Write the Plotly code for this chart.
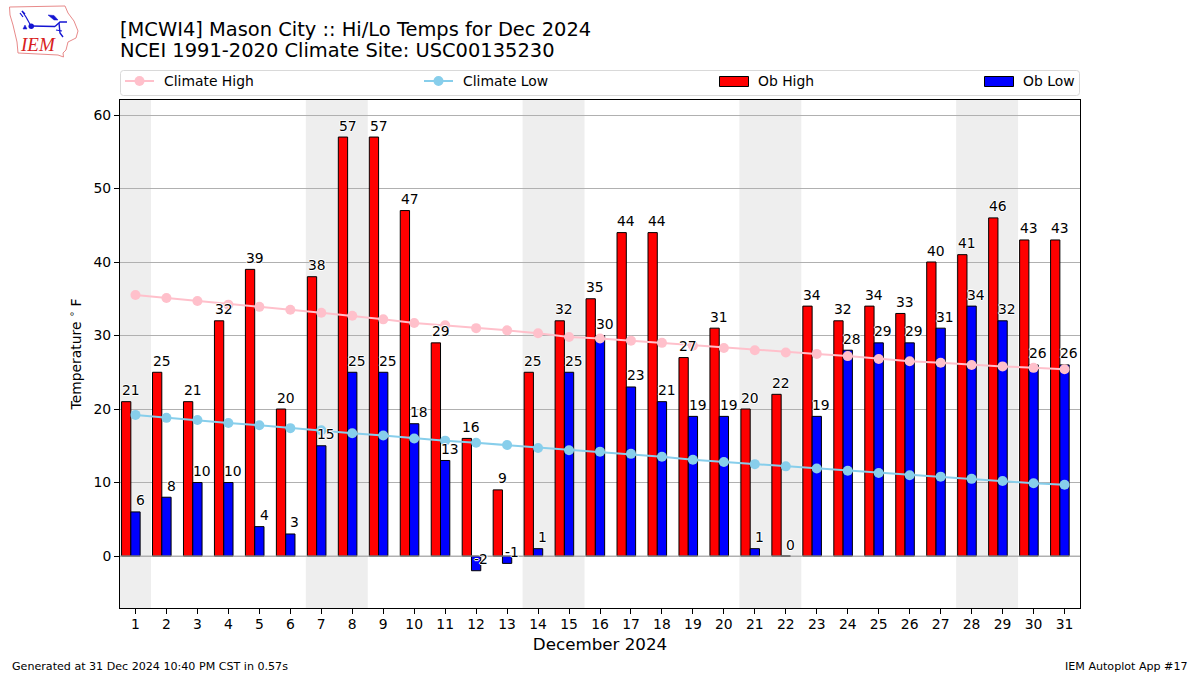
import plotly.graph_objects as go

days = list(range(1, 32))
ob_high = [21,25,21,32,39,20,38,57,57,47,29,16,9,25,32,35,44,44,27,31,20,22,34,32,34,33,40,41,46,43,43]
ob_low = [6,8,10,10,4,3,15,25,25,18,13,-2,-1,1,25,30,23,21,19,19,1,0,19,28,29,29,31,34,32,26,26]
climate_high = [35.5,35.1,34.7,34.2,33.9,33.5,33.1,32.7,32.2,31.7,31.4,31.0,30.7,30.3,29.8,29.6,29.3,29.0,28.6,28.3,28.0,27.7,27.5,27.2,26.8,26.5,26.3,26.0,25.8,25.6,25.4]
climate_low = [19.2,18.8,18.5,18.1,17.8,17.4,17.1,16.7,16.4,16.0,15.7,15.4,15.1,14.7,14.4,14.2,13.9,13.5,13.1,12.8,12.5,12.2,11.9,11.6,11.3,11.0,10.8,10.5,10.2,9.9,9.7]
weekend_spans = [(0.5,1.5),(6.5,8.5),(13.5,15.5),(20.5,22.5),(27.5,29.5)]
title_line1 = "[MCWI4] Mason City :: Hi/Lo Temps for Dec 2024"
title_line2 = "NCEI 1991-2020 Climate Site: USC00135230"
footer_left = "Generated at 31 Dec 2024 10:40 PM CST in 0.57s"
footer_right = "IEM Autoplot App #17"
legend_names = ["Climate High", "Climate Low", "Ob High", "Ob Low"]

W, H = 1200, 675
L, R, T, B = 120, 1080, 100, 608
FONT = "DejaVu Sans"
PINK, SKY, RED, BLUE = "#ffc0cb", "#87ceeb", "#ff0000", "#0000ff"
def px(x): return (x - L) / (R - L)
def py(y): return (B - y) / (B - T)
def page_path(pts, close=False):
    s = "M" + " L".join(f"{px(a):.5f},{py(b):.5f}" for a, b in pts)
    return s + (" Z" if close else "")

fig = go.Figure()
fig.add_trace(go.Scatter(x=days, y=climate_high, name=legend_names[0], mode="lines+markers",
                         line=dict(color=PINK, width=2), marker=dict(color=PINK, size=10)))
fig.add_trace(go.Scatter(x=days, y=climate_low, name=legend_names[1], mode="lines+markers",
                         line=dict(color=SKY, width=2), marker=dict(color=SKY, size=10)))
fig.add_trace(go.Bar(x=days, y=ob_high, name=legend_names[2], width=0.3, offset=-0.45,
                     marker=dict(color=RED, line=dict(color="black", width=1))))
fig.add_trace(go.Bar(x=days, y=ob_low, name=legend_names[3], width=0.3, offset=-0.15,
                     marker=dict(color=BLUE, line=dict(color="black", width=1))))

P = dict(xref="paper", yref="paper")
shapes = [dict(type="rect", xref="x", yref="paper", x0=a, x1=b, y0=0, y1=1, layer="below",
               fillcolor="#eeeeee", line=dict(width=0)) for a, b in weekend_spans]
# grey baseline sits over the bar edges at zero
shapes.append(dict(type="line", xref="paper", yref="y", x0=0, x1=1, y0=0, y1=0, layer="above",
                   line=dict(color="#b0b0b0", width=1)))
# rounded legend frame
r = 3
x0, x1, y0, y1 = 120.5, 1079.5, 70.5, 95.5
frame = (f"M{px(x0+r)},{py(y0)} L{px(x1-r)},{py(y0)} Q{px(x1)},{py(y0)} {px(x1)},{py(y0+r)} "
         f"L{px(x1)},{py(y1-r)} Q{px(x1)},{py(y1)} {px(x1-r)},{py(y1)} L{px(x0+r)},{py(y1)} "
         f"Q{px(x0)},{py(y1)} {px(x0)},{py(y1-r)} L{px(x0)},{py(y0+r)} Q{px(x0)},{py(y0)} {px(x0+r)},{py(y0)} Z")
shapes.append(dict(type="path", path=frame, layer="above", line=dict(color="#d9d9d9", width=1), **P))
# legend keys
for xa, color in [(125, PINK), (424, SKY)]:
    shapes.append(dict(type="path", path=page_path([(xa, 81), (xa+29, 81)]), line=dict(color=color, width=2), **P))
    shapes.append(dict(type="circle", x0=px(xa+9.5), x1=px(xa+19.5), y0=py(86), y1=py(76),
                       fillcolor=color, line=dict(width=0), **P))
for xa, color in [(719.5, RED), (984.5, BLUE)]:
    shapes.append(dict(type="rect", x0=px(xa), x1=px(xa+29), y0=py(86.5), y1=py(76.5),
                       fillcolor=color, line=dict(color="black", width=1), **P))
# IEM logo
iowa = [(9.5,7),(65,6),(68,13),(74,21),(78,31),(76,38),(68,42),(66,50),(63,53),(63.5,57),(58,55),(18,53),(17,42),(13,25),(10,15)]
shapes.append(dict(type="path", path=page_path(iowa, True), line=dict(color="#e88a8a", width=1), **P))
LB = "#1414d2"
for pts, w in [([(31,26),(55,26.5)],1.6), ([(55,26.5),(60,22),(67,22)],1.4), ([(31,26),(26,17),(22,11)],1.2),
               ([(22,11),(25,14)],1.2), ([(20,13),(23,17)],1.2), ([(59,23),(60,33),(63,37)],1.4),
               ([(56,30),(62,31)],1.2)]:
    shapes.append(dict(type="path", path=page_path(pts), line=dict(color=LB, width=w), **P))
shapes.append(dict(type="path", path=page_path([(48,15),(54,15.5),(58,20),(54,20)], True), fillcolor=LB, line=dict(color=LB, width=0.5), **P))
shapes.append(dict(type="path", path=page_path([(23,29),(25,25),(27,29)], True), fillcolor=LB, line=dict(color=LB, width=0.5), **P))
shapes.append(dict(type="circle", x0=px(28.5), x1=px(34), y0=py(29), y1=py(23.5), fillcolor=LB, line=dict(width=0), **P))

WHITE_HALO = "-1px 0 0 #fff, 1px 0 0 #fff, 0 -1px 0 #fff, 0 1px 0 #fff"
LABEL_FONT = dict(family=FONT, size=13.9, color="black", shadow=WHITE_HALO)
ann = []
for d, v in zip(days, ob_high):
    ann.append(dict(x=d-0.15, y=v, xref="x", yref="y", text=str(v), showarrow=False, yshift=11.5, font=LABEL_FONT))
for d, v in zip(days, ob_low):
    ann.append(dict(x=d+0.15, y=v, xref="x", yref="y", text=str(v), showarrow=False, yshift=11.5, font=LABEL_FONT))
def page_text(x, y, text, size, anchor="left", family=FONT, color="black"):
    shift = {"left": -2, "right": 2, "center": 0}[anchor]
    return dict(x=px(x), y=py(y), text=text, showarrow=False, xanchor=anchor, xshift=shift, yanchor="middle",
                font=dict(family=family, size=size, color=color), **P)
ann.append(page_text(120, 50.5, title_line2, 19.45))
ann.append(page_text(12, 666, footer_left, 11.1))
ann.append(page_text(1188, 666, footer_right, 11.1, anchor="right"))
ann.append(page_text(38, 45, "<i>IEM</i>", 19, anchor="center", family="Liberation Serif", color="#d82020"))
for name, x in zip(legend_names, [164, 463, 758, 1023]):
    ann.append(page_text(x, 81, name, 13.9))

fig.update_layout(
    width=W, height=H, autosize=False,
    margin=dict(l=L, r=W-R, t=T, b=H-B, autoexpand=False),
    paper_bgcolor="white", plot_bgcolor="white",
    font=dict(family=FONT, size=13.9, color="black"),
    title=dict(text=title_line1, x=120/W, xanchor="left", y=1-29/H, yanchor="middle", yref="container",
               font=dict(family=FONT, size=19.45, color="black")),
    barmode="overlay",
    showlegend=False,
    shapes=shapes, annotations=ann,
    xaxis=dict(range=[0.5, 31.5], tickmode="array", tickvals=days, ticktext=[str(d) for d in days],
               showgrid=False, zeroline=False, ticks="outside", ticklen=5, tickcolor="black",
               showline=True, linecolor="black", linewidth=1, mirror=True, ticklabelstandoff=-2,
               tickfont=dict(family=FONT, size=13.9),
               title=dict(text="December 2024", font=dict(family=FONT, size=16.7), standoff=7)),
    yaxis=dict(range=[-7.07, 62.04], tickmode="array", tickvals=[0,10,20,30,40,50,60],
               showgrid=True, gridcolor="#b0b0b0", gridwidth=1, zeroline=False,
               ticks="outside", ticklen=5, tickcolor="black",
               showline=True, linecolor="black", linewidth=1, mirror=True,
               tickfont=dict(family=FONT, size=13.9),
               title=dict(text="Temperature <sup>∘</sup> F", font=dict(family=FONT, size=13.9), standoff=8)),
)
fig.write_html("out.html", config=dict(displayModeBar=False), post_script="document.body.style.margin='0';")
